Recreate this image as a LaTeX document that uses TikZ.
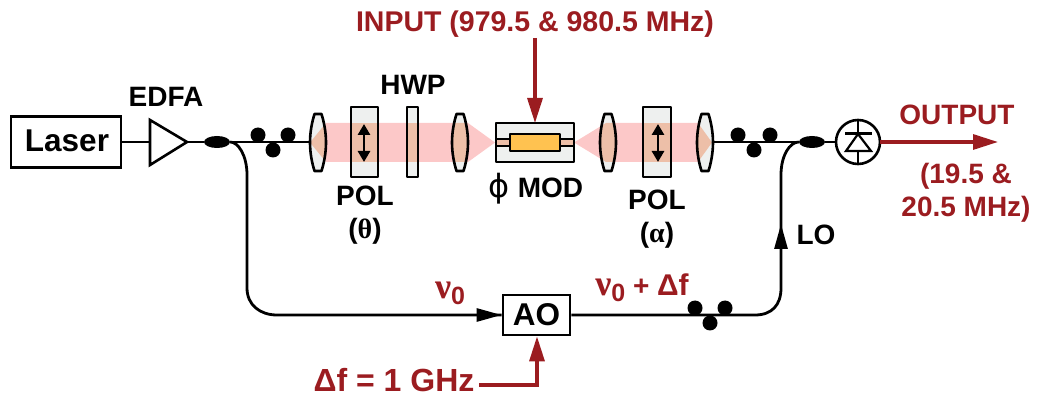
\documentclass[tikz,border=0pt]{standalone}
\usepackage{fontspec}
\setmainfont{Liberation Sans}[BoldFont={* Bold}]
\newfontfamily\grk{Liberation Serif}[BoldFont={* Bold}]
\newfontfamily\phifont{DejaVu Sans}
\usetikzlibrary{arrows.meta,shapes.geometric}
\definecolor{dred}{HTML}{9B1C20}
\definecolor{beam}{HTML}{FCC8C8}
\definecolor{tanc}{HTML}{EDBFA8}
\definecolor{glass}{HTML}{EEF0EF}
\definecolor{gold}{HTML}{FFC250}
\newcommand{\nuzero}{{\fontsize{36}{36}\selectfont\grk ν}\raisebox{-6pt}{\fontsize{25}{25}\selectfont 0}}
\tikzset{
  x=1pt,y=-1pt,
  lbl/.style={font=\fontsize{28}{31}\selectfont\bfseries,text=black,inner sep=0pt,align=center},
  lbltwo/.style={lbl,font=\fontsize{28}{33}\selectfont\bfseries},
  rlbl/.style={lbl,text=dred},
  box/.style={draw=black,line width=2.8pt,fill=white,inner sep=0pt,minimum height=#1},
  fiber/.style={line width=2.8pt,draw=black},
  blk/.style={fiber,-{Triangle[length=25pt,width=13pt]}},
  red/.style={line width=3.2pt,draw=dred,-{Triangle[length=25pt,width=15pt]}},
  dot/.style={circle,fill=black,inner sep=0pt,minimum size=15pt},
  coup/.style={ellipse,fill=black,inner sep=0pt,minimum width=26pt,minimum height=12pt},
  elem/.style={draw=black,line width=2.6pt,line join=round},
  dbl/.style={line width=2.8pt,draw=black,{Triangle[length=11pt,width=12pt]}-{Triangle[length=11pt,width=12pt]}},
}
\newcommand{\lenspath}[1]{(#1-3.5,114) -- (#1+3.5,114) .. controls (#1+6,122) and (#1+8,132) .. (#1+8,142.5) .. controls (#1+8,153) and (#1+6,163) .. (#1+3.5,171) -- (#1-3.5,171) .. controls (#1-6,163) and (#1-8,153) .. (#1-8,142.5) .. controls (#1-8,132) and (#1-6,122) .. (#1-3.5,114) -- cycle}
\newcommand{\beampath}{(310,142.5) -- (326,123) -- (468,123) -- (495,142.5) -- (468,162) -- (326,162) -- cycle (574,142.5) -- (606,123) -- (698,123) -- (712,142.5) -- (698,162) -- (606,162) -- cycle}
\begin{document}
\begin{tikzpicture}
\useasboundingbox (0,0) rectangle (1037,398);
% anchors
\coordinate (ampin) at (150,142);
\coordinate (ampout) at (187,142);
\coordinate (lensA) at (310,142);
\coordinate (lensD) at (713,142);
\coordinate (gen) at (479,385);
\coordinate (genturn) at (537,385);
\coordinate (inp) at (535,38);
% beam and glass
\fill[beam] \beampath;
\foreach \cx in {318,460,608,705}{
  \fill[glass] \lenspath{\cx};
  \begin{scope}\clip \lenspath{\cx}; \fill[tanc] \beampath; \end{scope}
}
\foreach \xa/\xb in {351/378,407/418,643/671}{
  \fill[glass] (\xa,107) rectangle (\xb,177);
  \fill[tanc] (\xa,123) rectangle (\xb,162);
  \draw[elem] (\xa,107) rectangle (\xb,177);
}
\foreach \cx in {318,460,608,705}{ \draw[elem] \lenspath{\cx}; }
\draw[dbl] (364,124) -- (364,162);
\draw[dbl] (658,124) -- (658,162);
% modulator
\draw[elem,fill=glass] (496,123) rectangle (574,162);
\fill[tanc] (497,140) rectangle (573,145);
\draw[line width=1.8pt] (497,139) -- (510,139) (497,146) -- (510,146) (560,139) -- (573,139) (560,146) -- (573,146);
\draw[elem,fill=gold] (510,134) rectangle (560,151);
% main nodes
\node[box=51pt,minimum width=110pt] (laser) at (66,142) {};
\node[lbl,font=\fontsize{31.5}{31}\selectfont\bfseries] (lasertext) at (67,141) {Laser};
\draw[elem,line join=miter,fill=white] (150,120) -- (187,142) -- (150,165) -- cycle;
\node[coup] (c1) at (217,142) {};
\node[coup] (c2) at (812,142) {};
\node[dot] (p1) at (258,135) {};
\node[dot] (p2) at (273,150) {};
\node[dot] (p3) at (288,135) {};
\node[dot] (p4) at (738,135) {};
\node[dot] (p5) at (754,150) {};
\node[dot] (p6) at (770,135) {};
\node[dot] (p7) at (695,308) {};
\node[dot] (p8) at (710,323) {};
\node[dot] (p9) at (725,308) {};
\node[box=40pt,minimum width=67pt] (ao) at (536.5,315) {};
\node[lbl,font=\fontsize{31.5}{31}\selectfont\bfseries] (aotext) at (536.5,315) {AO};
\node[circle,draw=black,line width=2.6pt,minimum size=44pt,inner sep=0pt] (pd) at (858,142) {};
\draw[line width=2.2pt] (858,120) -- (858,164) (845,133.5) -- (872,133.5);
\draw[line width=2.2pt,fill=white,line join=miter] (858,134) -- (871,151) -- (846,151) -- cycle;
\draw[line width=2.2pt] (845,151) -- (872,151);
\coordinate (outp) at (998,142);
% connectors
\draw[fiber] (laser) -- (ampin);
\draw[fiber] (ampout) -- (c1);
\draw[fiber] (c1) -- (lensA);
\draw[fiber] (lensD) -- (c2);
\draw[fiber] (c2) -- (pd);
\draw[fiber] (c1) .. controls (238,142) and (247,155) .. (247,175) -- (247,288) .. controls (247,305) and (260,315) .. (277,315) -- (ao);
\draw[blk] (277,315) -- (ao);
\draw[fiber] (ao) -- (755,315) .. controls (772,315) and (781,305) .. (781,288) -- (781,175) .. controls (781,155) and (790,142) .. (c2);
\draw[blk] (781,245) -- (781,224);
\draw[red] (pd) ++(22,0) -- (outp);
\draw[red] (inp) -- (535,123);
\draw[red] (gen) -- (genturn) -- (ao.south -| genturn);
% labels
\node[lbl] (t1) at (166,97) {EDFA};
\node[lbl] (t2) at (413,85) {HWP};
\node[lbltwo] (t3) at (365,215) {POL\\({\grk θ})};
\node[lbl] (t4) at (536,189) {{\fontsize{32}{32}\selectfont\mdseries\phifont ϕ} MOD};
\node[lbltwo] (t5) at (657,219) {POL\\({\grk α})};
\node[lbl] (t6) at (816,235) {LO};
\node[rlbl,font=\fontsize{28.5}{31}\selectfont\bfseries] (t7) at (535,24) {INPUT (979.5 \& 980.5 MHz)};
\node[rlbl] (t8) at (957,115) {OUTPUT};
\node[rlbl,font=\fontsize{28}{33}\selectfont\bfseries] (t9) at (966,193) {(19.5 \&\\20.5 MHz)};
\node[rlbl] (t10) at (450,293) {\nuzero};
\node[rlbl] (t11) at (642,288) {\nuzero{} + {\fontsize{30}{30}\selectfont Δf}};
\node[rlbl,font=\fontsize{32}{33}\selectfont\bfseries] (t12) at (394,380) {Δf = 1 GHz};
\end{tikzpicture}
\end{document}
